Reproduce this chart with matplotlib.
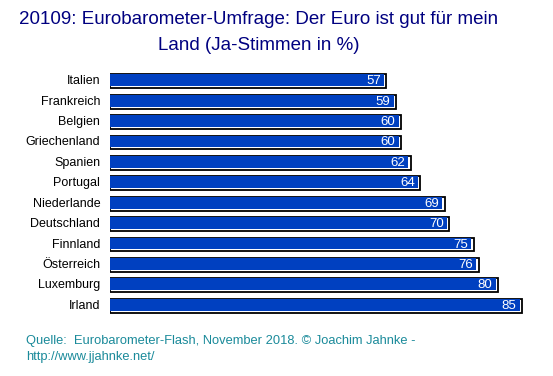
import matplotlib.pyplot as plt
from matplotlib.patches import Rectangle

plt.rcParams['font.family'] = ['Liberation Sans', 'DejaVu Sans']

countries = ['Italien', 'Frankreich', 'Belgien', 'Griechenland', 'Spanien', 'Portugal',
             'Niederlande', 'Deutschland', 'Finnland', 'Österreich', 'Luxemburg', 'Irland']
values = [57, 59, 60, 60, 62, 64, 69, 70, 75, 76, 80, 85]

BLUE = '#0040c0'
W, H = 553, 376

fig = plt.figure(figsize=(W / 100, H / 100), dpi=100)
# axes: x from 110px to 543px, y covering the bar area
ax = fig.add_axes([110 / W, 1 - 316 / H, 433 / W, (316 - 71) / H])
ax.set_xlim(0, 89.3)
n = len(countries)
ax.set_ylim(n - 0.5, -0.5)
ax.axis('off')

bar_h = 0.68
for i, (c, v) in enumerate(zip(countries, values)):
    # outer frame: black outline with white gap on right/bottom
    ax.add_patch(Rectangle((0, i - bar_h / 2), v, bar_h, facecolor='white',
                           edgecolor='black', linewidth=1.3, zorder=2))
    ax.add_patch(Rectangle((0, i - bar_h / 2), v - 0.45, bar_h - 0.1, facecolor=BLUE,
                           edgecolor='none', zorder=3))
    ax.annotate(str(v), (v, i), xytext=(-4, 0), textcoords='offset points',
                ha='right', va='center', color='white', fontsize=9.5, zorder=4)
    ax.annotate(c, (0, i), xytext=(-7, 0), textcoords='offset points',
                ha='right', va='center', color='black', fontsize=9)

fig.text(259 / W, 1 - 20 / H, '20109: Eurobarometer-Umfrage: Der Euro ist gut für mein',
         ha='center', va='center', color='#000080', fontsize=13.5)
fig.text(259 / W, 1 - 45 / H, 'Land (Ja-Stimmen in %)',
         ha='center', va='center', color='#000080', fontsize=13.5)

fig.text(26 / W, 1 - 341 / H, 'Quelle:  Eurobarometer-Flash, November 2018. © Joachim Jahnke -',
         ha='left', va='center', color='#1a8a9a', fontsize=9.3)
fig.text(26 / W, 1 - 357 / H, 'http://www.jjahnke.net/',
         ha='left', va='center', color='#1a8a9a', fontsize=9.3)

fig.savefig('out.png', dpi=100, facecolor='white')
